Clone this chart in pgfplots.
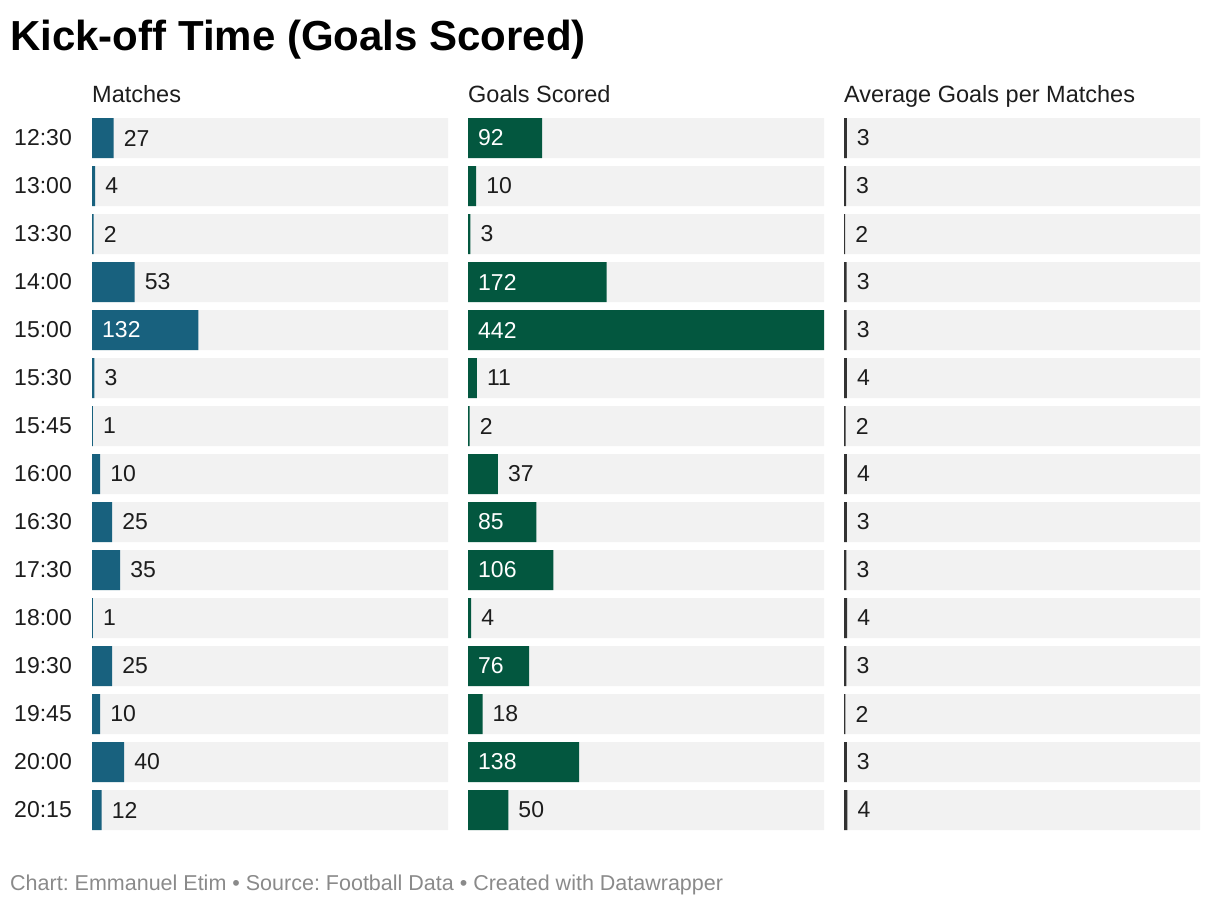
\documentclass[border=0pt]{standalone}
\usepackage{pgfplots}
\pgfplotsset{compat=1.18}
\usepackage{pgfplotstable}
\usepackage{fontspec}
\setmainfont{Liberation Sans}
\frenchspacing

\definecolor{mblue}{HTML}{18617E}
\definecolor{ggreen}{HTML}{03573F}
\definecolor{agray}{HTML}{333333}
\definecolor{track}{HTML}{F2F2F2}
\definecolor{txt}{HTML}{1D1D1D}
\definecolor{foot}{HTML}{8A8A8A}

% row, kick-off, matches, label inside?, goals, label inside?, average
\pgfplotstableread{
row time  matches min goals gin avg
0   12:30 27      0   92    1   3.41
1   13:00 4       0   10    0   2.50
2   13:30 2       0   3     0   1.50
3   14:00 53      0   172   1   3.25
4   15:00 132     1   442   1   3.35
5   15:30 3       0   11    0   3.67
6   15:45 1       0   2     0   2.00
7   16:00 10      0   37    0   3.70
8   16:30 25      0   85    1   3.40
9   17:30 35      0   106   1   3.03
10  18:00 1       0   4     0   4.00
11  19:30 25      0   76    1   3.04
12  19:45 10      0   18    0   1.80
13  20:00 40      0   138   1   3.45
14  20:15 12      0   50    0   4.17
}\data

\newcommand\lbl{\fontsize{23}{27}\selectfont}

\pgfplotsset{
  panel/.style={
    xbar, scale only axis, width=356pt, height=720pt,
    xmin=0, xmax=442, ymin=-0.5, ymax=14.5, y dir=reverse,
    bar width=40pt, bar shift=0pt,
    axis line style={draw=none}, major tick length=0pt,
    xtick=\empty, ytick=\empty,
    anchor=north west, clip=false,
    /pgf/number format/assume math mode=true,
    title style={at={(0,1)}, anchor=base west, yshift=6pt, inner sep=0pt,
      font=\fontsize{23.5}{27}\selectfont, text=txt},
  },
}

\begin{document}
\begin{tikzpicture}
\useasboundingbox (0,0) rectangle (1220pt,-906pt);

\node[anchor=base west, inner sep=0pt, text=black,
  font=\bfseries\fontsize{42}{48}\selectfont] at (10pt,-50pt) {Kick-off Time (Goals Scored)};

\begin{axis}[panel, at={(92pt,-114pt)}, title={Matches},
  ytick={0,...,14}, yticklabels from table={\data}{time},
  yticklabel style={font=\lbl, text=txt, inner sep=0pt, xshift=-20pt}]
  \addplot[fill=track, draw=none] table[x expr=442, y=row]{\data};
  \addplot[fill=mblue, draw=none, point meta=x,
    visualization depends on={\thisrow{matches}*356/442 \as \blen},
    visualization depends on={\thisrow{min} \as \inside},
    nodes near coords={\ifdim\inside pt>0.5pt \color{white}\fi\pgfmathprintnumber{\pgfplotspointmeta}},
    every node near coord/.style={anchor=west, inner sep=0pt, font=\lbl,
      text=txt, xshift={(10-\inside*\blen)*1pt}}]
    table[x=matches, y=row]{\data};
\end{axis}

\begin{axis}[panel, at={(468pt,-114pt)}, title={Goals Scored}]
  \addplot[fill=track, draw=none] table[x expr=442, y=row]{\data};
  \addplot[fill=ggreen, draw=none, point meta=x,
    visualization depends on={\thisrow{goals}*356/442 \as \blen},
    visualization depends on={\thisrow{gin} \as \inside},
    nodes near coords={\ifdim\inside pt>0.5pt \color{white}\fi\pgfmathprintnumber{\pgfplotspointmeta}},
    every node near coord/.style={anchor=west, inner sep=0pt, font=\lbl,
      text=txt, xshift={(10-\inside*\blen)*1pt}}]
    table[x=goals, y=row]{\data};
\end{axis}

\begin{axis}[panel, at={(844pt,-114pt)}, title={Average Goals per Matches}]
  \addplot[fill=track, draw=none] table[x expr=442, y=row]{\data};
  \addplot[fill=agray, draw=none, point meta=x,
    nodes near coords={\pgfmathprintnumber[fixed,precision=0]{\pgfplotspointmeta}},
    every node near coord/.style={anchor=west, inner sep=0pt, font=\lbl,
      text=txt, xshift=10pt}]
    table[x=avg, y=row]{\data};
\end{axis}

\node[anchor=base west, inner sep=0pt, text=foot,
  font=\fontsize{21.5}{25}\selectfont] at (10pt,-890pt)
  {Chart: Emmanuel Etim • Source: Football Data • Created with Datawrapper};
\end{tikzpicture}
\end{document}
